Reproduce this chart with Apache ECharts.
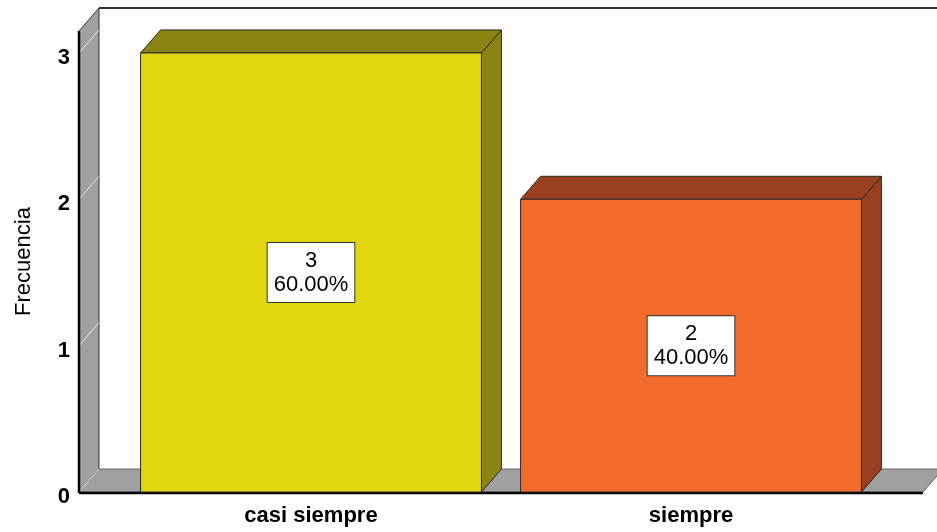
<!DOCTYPE html>
<html>
<head>
<meta charset="utf-8">
<script src="https://cdn.jsdelivr.net/npm/echarts@6/dist/echarts.min.js"></script>
<style>html,body{margin:0;padding:0;background:#fff}#c{width:937px;height:532px}</style>
</head>
<body>
<div id="c"></div>
<script>
const categories = ['casi siempre', 'siempre'];
const counts = [3, 2];
const percents = ['60.00%', '40.00%'];
const yTicks = [0, 1, 2, 3];
const frontColors = ['#E2D60E', '#F26B2B'];
const sideColors = ['#8C8412', '#9A3F1F'];

const FONT = '"Liberation Sans", Arial, sans-serif';
const DX = 20, DY = -23;   // 3D depth offset
const EXT = 42;            // how far floor/wall extend beyond the category band

const chart = echarts.init(document.getElementById('c'));

function renderFrame(params, api) {
  const cs = params.coordSys;
  const x0 = cs.x - EXT;
  const x1 = cs.x + cs.width + EXT;
  const yTop = cs.y;
  const y0 = api.coord([0, 0])[1];
  const children = [];
  children.push({ type: 'line', shape: { x1: x0 + DX, y1: yTop + DY, x2: 960, y2: yTop + DY },
    style: { stroke: '#333', lineWidth: 2 } });
  children.push({ type: 'polygon', shape: { points: [[x0, yTop], [x0 + DX, yTop + DY], [x0 + DX, y0 + DY], [x0, y0]] },
    style: { fill: '#A0A0A0', stroke: '#333', lineWidth: 1 } });
  children.push({ type: 'polygon', shape: { points: [[x0, y0], [x0 + DX, y0 + DY], [x1 + DX, y0 + DY], [x1, y0]] },
    style: { fill: '#A0A0A0', stroke: '#666', lineWidth: 1 } });
  yTicks.forEach(function (v) {
    const y = api.coord([0, v])[1];
    children.push({ type: 'line', shape: { x1: x0, y1: y, x2: x0 + DX, y2: y + DY },
      style: { stroke: '#E6E6E6', lineWidth: 1 } });
  });
  children.push({ type: 'line', shape: { x1: x0, y1: yTop, x2: x0, y2: y0 + 1 },
    style: { stroke: '#000', lineWidth: 2.5 } });
  children.push({ type: 'line', shape: { x1: x0, y1: y0 + 1, x2: x1, y2: y0 + 1 },
    style: { stroke: '#000', lineWidth: 2.5 } });
  return { type: 'group', children: children };
}

function renderBar(params, api) {
  const idx = api.value(0);
  const val = api.value(1);
  const top = api.coord([idx, val]);
  const base = api.coord([idx, 0]);
  const half = api.size([1, 0])[0] * 0.897 / 2;
  const l = top[0] - half, r = top[0] + half, t = top[1], b = base[1];
  const stroke = '#2a2a2a';
  return {
    type: 'group',
    children: [
      { type: 'polygon', shape: { points: [[r, t], [r + DX, t + DY], [r + DX, b + DY], [r, b]] },
        style: { fill: sideColors[idx], stroke: stroke, lineWidth: 1 } },
      { type: 'polygon', shape: { points: [[l, t], [l + DX, t + DY], [r + DX, t + DY], [r, t]] },
        style: { fill: sideColors[idx], stroke: stroke, lineWidth: 1 } },
      { type: 'rect', shape: { x: l, y: t, width: r - l, height: b - t },
        style: { fill: frontColors[idx], stroke: stroke, lineWidth: 1 } },
      { type: 'text', x: top[0], y: (t + b) / 2,
        style: { text: counts[idx] + '\n' + percents[idx], align: 'center', verticalAlign: 'middle',
          font: '22px ' + FONT, lineHeight: 24, fill: '#000',
          backgroundColor: '#fff', borderColor: '#333', borderWidth: 1, padding: [6, 6, 5, 6] } }
    ]
  };
}

chart.setOption({
  animation: false,
  grid: { left: 121, right: 56, top: 31, bottom: 40 },
  xAxis: {
    type: 'category', data: categories,
    axisLine: { show: false }, axisTick: { show: false },
    axisLabel: { fontFamily: FONT, fontSize: 22, fontWeight: 'bold', color: '#000', margin: 13 }
  },
  yAxis: {
    type: 'value', min: 0, max: 3.15, interval: 1, offset: EXT,
    name: 'Frecuencia', nameLocation: 'middle', nameGap: 44,
    nameTextStyle: { fontFamily: FONT, fontSize: 22, color: '#000' },
    axisLine: { show: false }, axisTick: { show: false }, splitLine: { show: false },
    axisLabel: { fontFamily: FONT, fontSize: 22, fontWeight: 'bold', color: '#000', margin: 9,
      verticalAlign: 'top', lineHeight: 10,
      formatter: function (v) { return yTicks.indexOf(v) >= 0 ? String(v) : ''; } }
  },
  series: [
    { type: 'custom', renderItem: renderFrame, data: [[0, 0]], silent: true, z: 1 },
    { type: 'custom', renderItem: renderBar, data: categories.map(function (c, i) { return [i, counts[i]]; }), z: 2 }
  ]
});
</script>
</body>
</html>
